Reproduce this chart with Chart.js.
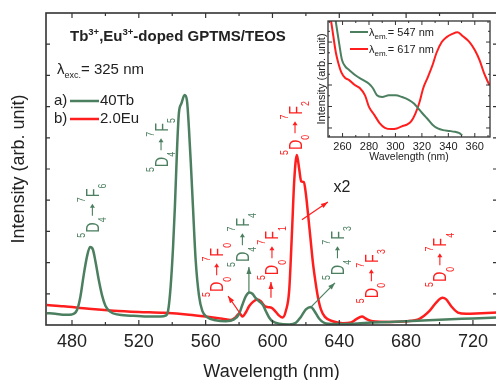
<!DOCTYPE html>
<html>
<head>
<meta charset="utf-8">
<script src="https://cdn.jsdelivr.net/npm/chart.js@4.4.1/dist/chart.umd.min.js"></script>
<style>
  html, body { margin: 0; padding: 0; background: #fff; }
  #wrap { position: relative; width: 496px; height: 380px; overflow: hidden; }
  #main { position: absolute; left: 0; top: 0; }
  #inset { position: absolute; left: 300px; top: 0; }
</style>
</head>
<body>
<div id="wrap">
  <canvas id="main" width="500" height="380"></canvas>
  <canvas id="inset" width="196" height="170"></canvas>
</div>
<script>
// emission spectra (main plot), wavelength in nm, intensity in arb. units
const greenWl = [465, 470, 476, 480, 483, 485, 487, 489, 490.8, 492.5, 494, 496, 498, 500, 503, 507, 515, 525, 533, 536, 537.5, 539, 540.5, 541.6, 543, 544, 545.5, 547.4, 548.8, 550, 551.3, 552.4, 554, 556, 558, 561, 566, 572, 577, 580, 582, 584, 586.3, 588, 590, 592, 594.3, 596, 598, 600, 604, 610, 614, 617, 620, 623, 625, 628, 632, 640, 660, 680, 700, 720, 735];
const greenInt = [0.38, 0.36, 0.33, 0.34, 0.48, 0.9, 1.6, 2.2, 2.5, 2.42, 2.05, 1.45, 0.95, 0.62, 0.42, 0.34, 0.3, 0.27, 0.27, 0.3, 0.45, 1.2, 2.5, 3.8, 5.8, 6.8, 7.1, 7.37, 7.2, 6.3, 5.0, 3.8, 2.1, 0.95, 0.45, 0.25, 0.15, 0.12, 0.18, 0.35, 0.65, 0.92, 1.04, 1.0, 0.86, 0.76, 0.64, 0.45, 0.24, 0.12, 0.04, 0.02, 0.07, 0.26, 0.5, 0.58, 0.46, 0.2, 0.05, 0.03, 0.08, 0.12, 0.17, 0.21, 0.24];

const redWl = [465, 475, 490, 505, 520, 535, 550, 560, 570, 575, 578, 580.3, 582, 584, 586, 588.5, 591, 593, 595.5, 597.5, 599.5, 602, 604, 606, 608, 610, 611.7, 613, 614.6, 616, 617.2, 618.8, 620, 621.2, 622.7, 624.2, 625.7, 627.2, 629, 631.4, 636, 642, 647, 650, 653.6, 656, 660, 670, 680, 688, 694, 698, 701.8, 704, 707, 711, 716, 725, 735];
const redInt = [0.64, 0.6, 0.52, 0.46, 0.42, 0.39, 0.33, 0.27, 0.2, 0.16, 0.25, 0.38, 0.27, 0.4, 0.6, 0.75, 0.82, 0.76, 0.6, 0.57, 0.55, 0.42, 0.3, 0.24, 0.45, 1.1, 3.0, 4.6, 5.45, 5.0, 4.6, 4.58, 4.2, 3.6, 2.8, 2.0, 1.4, 0.9, 0.5, 0.26, 0.12, 0.06, 0.08, 0.18, 0.27, 0.2, 0.12, 0.1, 0.12, 0.2, 0.45, 0.72, 0.87, 0.82, 0.6, 0.4, 0.36, 0.38, 0.4];

// excitation spectra (inset)
const insetGreenWl = [253.5, 255.5, 257.4, 259.6, 262, 265, 270, 275, 280, 283, 286, 290, 295, 300, 305, 310, 314, 317, 320, 324, 328, 332, 336, 341, 345, 348, 350.5];
const insetGreenInt = [5.51, 4.71, 3.95, 3.16, 2.87, 2.70, 2.44, 2.25, 2.06, 1.85, 1.52, 1.44, 1.52, 1.52, 1.44, 1.31, 1.14, 0.93, 0.71, 0.44, 0.15, -0.02, -0.10, -0.14, -0.18, -0.23, -0.34];
const insetRedWl = [250, 252, 255, 257, 259, 262, 265, 269, 273, 277, 280, 284, 288, 292, 297, 301, 305.5, 309, 312, 315, 318, 321, 324.5, 328, 331, 335, 338.7, 343, 347, 351, 356, 360, 363.6, 367, 371];
const insetRedInt = [5.51, 4.71, 3.49, 2.98, 2.60, 2.33, 2.23, 2.01, 1.86, 1.52, 0.98, 0.61, 0.23, 0.01, -0.05, -0.02, 0.09, 0.17, 0.32, 0.66, 1.16, 1.85, 2.37, 2.92, 3.49, 4.00, 4.23, 4.38, 4.46, 4.27, 4.00, 3.63, 3.16, 2.55, 2.00];

const xTicks = [480, 520, 560, 600, 640, 680, 720];
const insetXTicks = [260, 280, 300, 320, 340, 360];

const GREEN = '#4b7f5f';
const RED = '#ff1e1e';
const INK = '#222';
const FONT = 'Arial, "Liberation Sans", Helvetica, sans-serif';

// transition labels: wl/y = bottom centre of the rotated label
const transLabels = [
  { wl: 492.2, y: 2.8, up: '4', low: '6', color: GREEN },
  { wl: 533.3, y: 4.9, up: '4', low: '5', color: GREEN },
  { wl: 613.5, y: 5.45, up: '0', low: '2', color: RED },
  { wl: 566.6, y: 0.9, up: '0', low: '0', color: RED },
  { wl: 582.0, y: 1.86, up: '4', low: '4', color: GREEN },
  { wl: 599.7, y: 1.44, up: '0', low: '1', color: RED },
  { wl: 638.9, y: 1.44, up: '4', low: '3', color: GREEN },
  { wl: 659.2, y: 0.7, up: '0', low: '3', color: RED },
  { wl: 700.2, y: 1.22, up: '0', low: '4', color: RED },
];
const arrows = [
  { from: [580.5, 0.38], to: [573.4, 0.93], color: RED },
  { from: [585.9, 1.03], to: [585.9, 1.86], color: GREEN },
  { from: [599.1, 0.87], to: [599.1, 1.38], color: RED },
  { from: [622.4, 0.54], to: [637.4, 1.35], color: GREEN },
  { from: [617.6, 3.37], to: [633.2, 3.94], color: RED },
];

function pts(xs, ys) {
  return xs.map((x, i) => ({ x: x, y: ys[i] }));
}

function rich(ctx, x, y, parts) {
  let cx = x;
  parts.forEach(p => {
    ctx.font = (p.w || 'normal') + ' ' + p.s + 'px ' + FONT;
    ctx.fillText(p.t, cx, y + (p.dy || 0));
    cx += ctx.measureText(p.t).width;
  });
  return cx;
}

function arrowHead(ctx, x0, y0, x1, y1, len, wid) {
  const a = Math.atan2(y1 - y0, x1 - x0);
  ctx.beginPath();
  ctx.moveTo(x1, y1);
  ctx.lineTo(x1 - len * Math.cos(a) + wid / 2 * Math.sin(a), y1 - len * Math.sin(a) - wid / 2 * Math.cos(a));
  ctx.lineTo(x1 - len * Math.cos(a) - wid / 2 * Math.sin(a), y1 - len * Math.sin(a) + wid / 2 * Math.cos(a));
  ctx.closePath();
  ctx.fill();
}

function drawTransition(ctx, x, y, lab) {
  ctx.save();
  ctx.translate(x, y);
  ctx.rotate(-Math.PI / 2);
  ctx.scale(0.8, 1);
  ctx.fillStyle = lab.color;
  ctx.strokeStyle = lab.color;
  ctx.textBaseline = 'alphabetic';
  let p = 0;
  ctx.font = '11px ' + FONT;
  ctx.fillText('5', p, -7);
  p += ctx.measureText('5').width;
  ctx.font = '18px ' + FONT;
  ctx.fillText('D', p, 6.5);
  p += ctx.measureText('D').width;
  ctx.font = '11px ' + FONT;
  ctx.fillText(lab.up, p, 14);
  p += ctx.measureText(lab.up).width + 2;
  ctx.lineWidth = 1.1;
  ctx.beginPath();
  ctx.moveTo(p, 0);
  ctx.lineTo(p + 11, 0);
  ctx.stroke();
  arrowHead(ctx, p, 0, p + 15, 0, 5, 5);
  p += 17;
  ctx.font = '11px ' + FONT;
  ctx.fillText('7', p, -7);
  p += ctx.measureText('7').width;
  ctx.font = '18px ' + FONT;
  ctx.fillText('F', p, 6.5);
  p += ctx.measureText('F').width;
  ctx.font = '11px ' + FONT;
  ctx.fillText(lab.low, p, 14);
  ctx.restore();
}

const mainDecor = {
  id: 'mainDecor',
  afterDraw(chart) {
    const { ctx, chartArea: a, scales: { x, y } } = chart;
    ctx.save();
    // frame with inward ticks
    ctx.strokeStyle = '#333';
    ctx.lineWidth = 1.6;
    ctx.strokeRect(a.left, a.top, a.right - a.left, a.bottom - a.top);
    ctx.lineWidth = 1.2;
    ctx.beginPath();
    for (let v = 480; v <= 730; v += 20) {
      const px = x.getPixelForValue(v);
      const len = (v - 480) % 40 === 0 ? 5 : 3;
      ctx.moveTo(px, a.bottom); ctx.lineTo(px, a.bottom - len);
      ctx.moveTo(px, a.top); ctx.lineTo(px, a.top + len);
    }
    for (let v = 1; v < 10; v++) {
      const py = y.getPixelForValue(v);
      ctx.moveTo(a.left, py); ctx.lineTo(a.left + 4, py);
      ctx.moveTo(a.right, py); ctx.lineTo(a.right - 4, py);
    }
    ctx.stroke();

    // title, excitation and legend
    ctx.fillStyle = INK;
    ctx.textBaseline = 'alphabetic';
    rich(ctx, 70, 41, [
      { t: 'Tb', s: 15, w: 'bold' }, { t: '3+', s: 9.5, w: 'bold', dy: -6 },
      { t: ',Eu', s: 15, w: 'bold' }, { t: '3+', s: 9.5, w: 'bold', dy: -6 },
      { t: '-doped GPTMS/TEOS', s: 15, w: 'bold' }
    ]);
    rich(ctx, 57, 74, [
      { t: 'λ', s: 15 }, { t: 'exc.', s: 9, dy: 4 }, { t: '= 325 nm', s: 15 }
    ]);
    ctx.textBaseline = 'middle';
    ctx.font = '15px ' + FONT;
    ctx.fillText('a)', 54, 101);
    ctx.fillText('40Tb', 100, 101);
    ctx.fillText('b)', 54, 119);
    ctx.fillText('2.0Eu', 100, 119);
    ctx.lineWidth = 2.5;
    ctx.strokeStyle = GREEN;
    ctx.beginPath(); ctx.moveTo(70, 101); ctx.lineTo(99, 101); ctx.stroke();
    ctx.strokeStyle = RED;
    ctx.beginPath(); ctx.moveTo(70, 119); ctx.lineTo(99, 119); ctx.stroke();

    // transition labels and arrows
    transLabels.forEach(l => drawTransition(ctx, x.getPixelForValue(l.wl), y.getPixelForValue(l.y), l));
    arrows.forEach(r => {
      const x0 = x.getPixelForValue(r.from[0]), y0 = y.getPixelForValue(r.from[1]);
      const x1 = x.getPixelForValue(r.to[0]), y1 = y.getPixelForValue(r.to[1]);
      ctx.strokeStyle = r.color;
      ctx.fillStyle = r.color;
      ctx.lineWidth = 1.2;
      ctx.beginPath(); ctx.moveTo(x0, y0); ctx.lineTo(x1, y1); ctx.stroke();
      arrowHead(ctx, x0, y0, x1, y1, 7, 5);
    });
    ctx.fillStyle = INK;
    ctx.font = '16px ' + FONT;
    ctx.textAlign = 'center';
    ctx.textBaseline = 'middle';
    ctx.fillText('x2', x.getPixelForValue(641.6), y.getPixelForValue(4.39));
    ctx.restore();
  }
};

new Chart(document.getElementById('main'), {
  type: 'line',
  data: {
    datasets: [
      { label: '40Tb', data: pts(greenWl, greenInt), borderColor: GREEN, borderWidth: 2.5 },
      { label: '2.0Eu', data: pts(redWl, redInt), borderColor: RED, borderWidth: 2.5 }
    ]
  },
  options: {
    responsive: false,
    animation: false,
    devicePixelRatio: 1,
    layout: { padding: { top: 13, right: 3, left: 0, bottom: 0 } },
    elements: { point: { radius: 0 }, line: { cubicInterpolationMode: 'monotone' } },
    plugins: { legend: { display: false }, tooltip: { enabled: false } },
    scales: {
      x: {
        type: 'linear',
        min: 464.44,
        max: 734.4,
        afterBuildTicks: s => { s.ticks = xTicks.map(v => ({ value: v })); },
        afterFit: s => { s.height = 55; },
        grid: { display: false, drawTicks: false },
        border: { display: false },
        ticks: { color: INK, font: { size: 18, family: FONT }, padding: 6, maxRotation: 0, autoSkip: false },
        title: { display: true, text: 'Wavelength (nm)', color: INK, font: { size: 18, family: FONT }, padding: { top: 0, bottom: -3 } }
      },
      y: {
        min: 0,
        max: 10,
        afterFit: s => { s.width = 46; },
        grid: { display: false, drawTicks: false },
        border: { display: false },
        ticks: { display: false },
        title: { display: true, text: 'Intensity (arb. unit)', color: INK, font: { size: 18, family: FONT }, padding: { top: 8, bottom: 0 } }
      }
    }
  },
  plugins: [mainDecor]
});

const insetDecor = {
  id: 'insetDecor',
  beforeDraw(chart) {
    const { ctx, chartArea: a } = chart;
    ctx.save();
    ctx.fillStyle = '#fff';
    ctx.fillRect(a.left, a.top, a.right - a.left, a.bottom - a.top);
    ctx.restore();
  },
  afterDraw(chart) {
    const { ctx, chartArea: a, scales: { x, y } } = chart;
    ctx.save();
    ctx.strokeStyle = '#333';
    ctx.lineWidth = 1.3;
    ctx.strokeRect(a.left, a.top, a.right - a.left, a.bottom - a.top);
    ctx.lineWidth = 1;
    ctx.beginPath();
    for (let v = 250; v <= 370; v += 10) {
      const px = x.getPixelForValue(v);
      const len = v % 20 === 0 ? 4 : 2;
      ctx.moveTo(px, a.bottom); ctx.lineTo(px, a.bottom - len);
      ctx.moveTo(px, a.top); ctx.lineTo(px, a.top + len);
    }
    for (let v = 0; v <= 4.5; v += 0.5) {
      const py = y.getPixelForValue(v);
      const len = v % 1 === 0 ? 4 : 2;
      ctx.moveTo(a.left, py); ctx.lineTo(a.left + len, py);
      ctx.moveTo(a.right, py); ctx.lineTo(a.right - len, py);
    }
    ctx.stroke();
    // legend
    ctx.lineWidth = 2;
    ctx.strokeStyle = GREEN;
    ctx.beginPath(); ctx.moveTo(50, 32); ctx.lineTo(68, 32); ctx.stroke();
    ctx.strokeStyle = RED;
    ctx.beginPath(); ctx.moveTo(50, 49); ctx.lineTo(68, 49); ctx.stroke();
    ctx.fillStyle = INK;
    ctx.textBaseline = 'alphabetic';
    rich(ctx, 69, 36, [{ t: 'λ', s: 11 }, { t: 'em.', s: 8, dy: 3 }, { t: '= 547 nm', s: 11 }]);
    rich(ctx, 69, 53, [{ t: 'λ', s: 11 }, { t: 'em.', s: 8, dy: 3 }, { t: '= 617 nm', s: 11 }]);
    ctx.restore();
  }
};

new Chart(document.getElementById('inset'), {
  type: 'line',
  data: {
    datasets: [
      { label: '547 nm', data: pts(insetGreenWl, insetGreenInt), borderColor: GREEN, borderWidth: 2 },
      { label: '617 nm', data: pts(insetRedWl, insetRedInt), borderColor: RED, borderWidth: 2 }
    ]
  },
  options: {
    responsive: false,
    animation: false,
    devicePixelRatio: 1,
    layout: { padding: { top: 21, right: 6, left: 0, bottom: 0 } },
    elements: { point: { radius: 0 }, line: { cubicInterpolationMode: 'monotone' } },
    plugins: { legend: { display: false }, tooltip: { enabled: false } },
    scales: {
      x: {
        type: 'linear',
        min: 249,
        max: 371.5,
        afterBuildTicks: s => { s.ticks = insetXTicks.map(v => ({ value: v })); },
        afterFit: s => { s.height = 33; },
        grid: { display: false, drawTicks: false },
        border: { display: false },
        ticks: { color: INK, font: { size: 11, family: FONT }, padding: 3, maxRotation: 0, autoSkip: false },
        title: { display: true, text: 'Wavelength (nm)', color: INK, font: { size: 10.5, family: FONT }, padding: { top: 0, bottom: 7 } }
      },
      y: {
        min: -0.42,
        max: 4.98,
        afterFit: s => { s.width = 28; },
        grid: { display: false, drawTicks: false },
        border: { display: false },
        ticks: { display: false },
        title: { display: true, text: 'Intensity (arb. unit)', color: INK, font: { size: 11, family: FONT }, padding: { top: 15, bottom: 0 } }
      }
    }
  },
  plugins: [insetDecor]
});
</script>
</body>
</html>
